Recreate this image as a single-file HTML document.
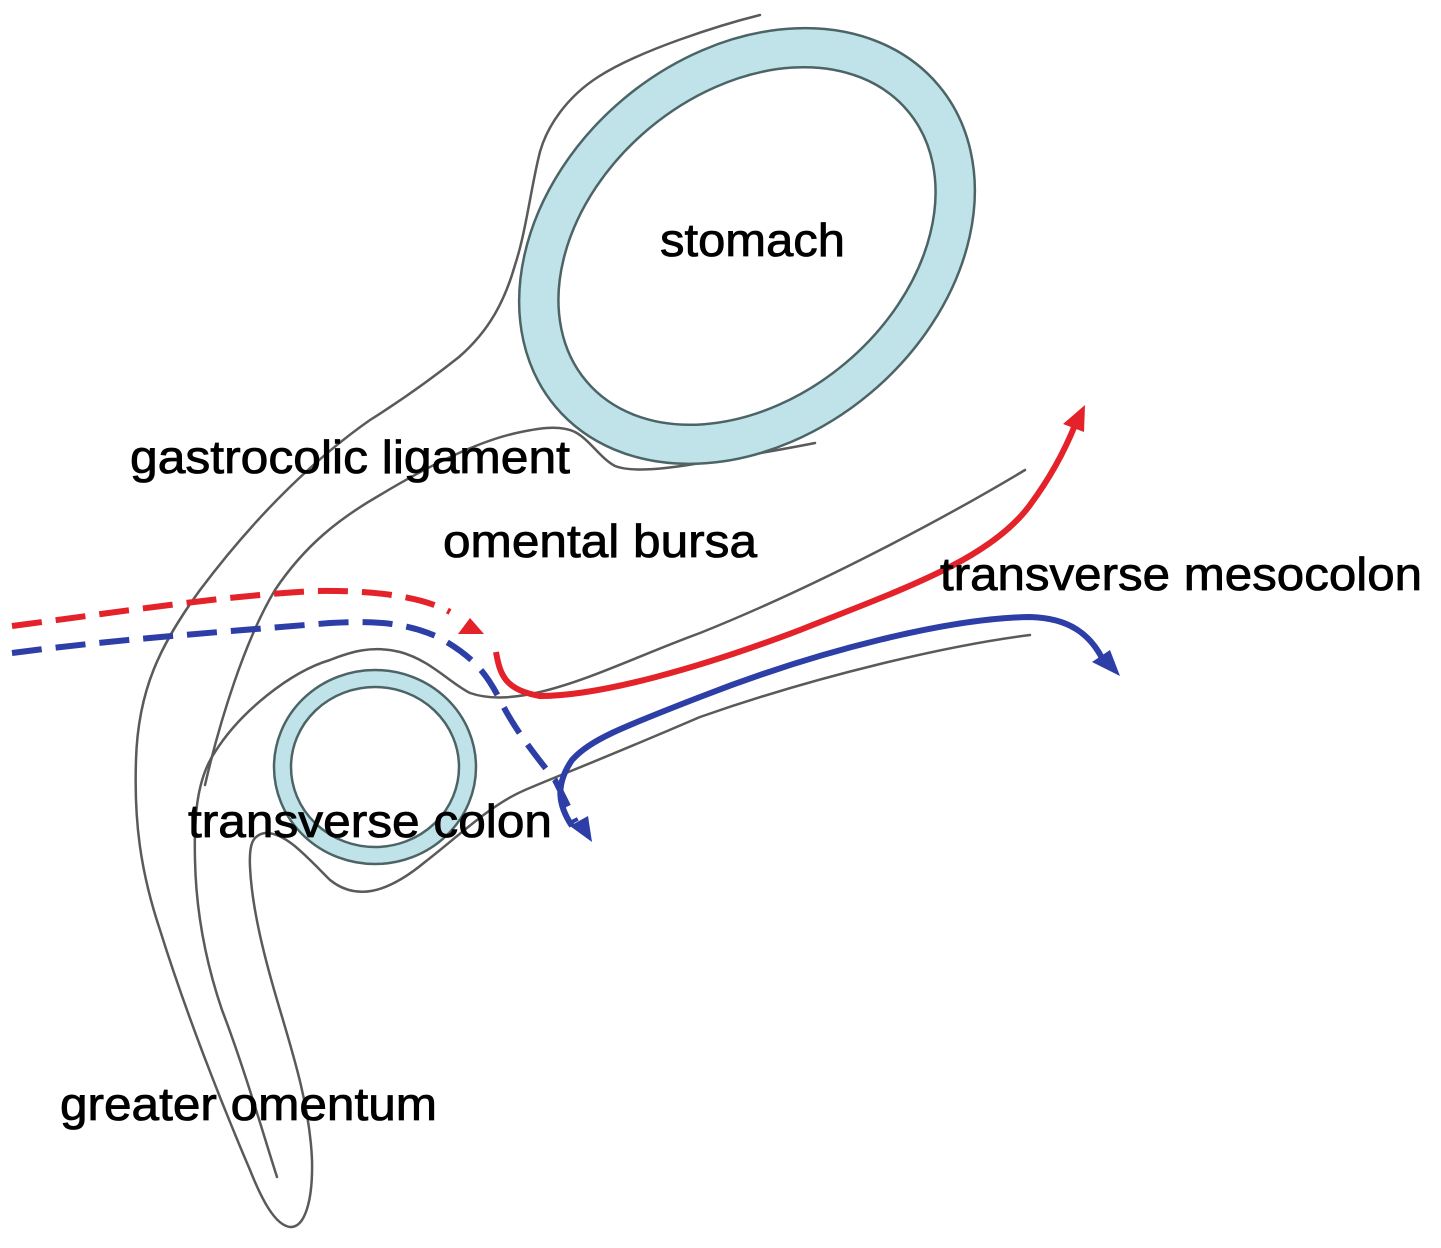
<!DOCTYPE html>
<html><head><meta charset="utf-8"><style>html,body{margin:0;padding:0;background:#fff}svg{display:block}</style></head>
<body>
<svg width="1441" height="1248" viewBox="0 0 1441 1248" xmlns="http://www.w3.org/2000/svg">
<g fill="none" stroke="#5a5a5a" stroke-width="2.5" stroke-linecap="round" stroke-linejoin="round">
<path d="M760,15 C720,25 640,50 598,77 C570,95 545,125 538,160 C530,195 525,235 515,265 C505,300 490,330 459,357 C430,380 405,398 370,420 C320,455 260,510 200,590 C160,645 138,690 136,760 C134,820 140,870 160,930 C185,1010 220,1100 250,1170 C262,1200 275,1225 290,1227 C305,1228 313,1200 312,1160 C310,1110 295,1060 280,1010 C265,960 252,910 250,867 C249,845 252,835 265,833 C285,832 305,855 330,880 C355,900 385,895 425,862 C460,835 490,805 525,790 C560,775 600,760 700,717 C820,675 950,645 1030,635"/>
<path d="M277,1177 C265,1140 245,1070 222,1010 C205,960 196,910 195,860 C194,820 196,780 215,752 C240,712 290,672 330,660 C350,652 372,645 400,652 C430,660 450,683 470,693 C490,700 515,698 540,692 C590,680 640,655 700,633 C820,585 950,515 1025,470"/>
<path d="M205,785 C220,720 245,640 275,590 C305,545 340,518 380,495 C430,465 480,440 521,432 C540,428 560,425 575,432 C590,440 600,458 615,466 C630,472 660,470 700,463 C750,455 790,448 815,443"/>
</g>
<g transform="translate(747,246) rotate(-40)">
<ellipse cx="0" cy="0" rx="250" ry="192" fill="#bfe3e8" stroke="#4d6466" stroke-width="2.5"/>
<ellipse cx="0" cy="0" rx="210" ry="153" fill="#fff" stroke="#4d6466" stroke-width="2.5"/>
</g>
<ellipse cx="375" cy="767" rx="101" ry="97" fill="#bfe3e8" stroke="#4d6466" stroke-width="2.5"/>
<ellipse cx="375" cy="767" rx="84" ry="80" fill="#fff" stroke="#4d6466" stroke-width="2.5"/>
<path d="M12,626 C120,612 220,596 315,591 C380,590 425,598 450,612" fill="none" stroke="#e3222a" stroke-width="6" stroke-dasharray="30,14"/>
<polygon points="470,618 458,634 484,634" fill="#e3222a"/>
<path d="M496,652 C500,675 505,690 540,696 C600,696 700,668 800,630 C900,590 990,560 1030,505 C1050,478 1065,450 1075,425" fill="none" stroke="#e3222a" stroke-width="6"/>
<polygon points="1085,405 1063,424 1084,432" fill="#e3222a"/>
<path d="M12,653 C110,640 220,632 330,623 C380,620 410,624 440,638 C470,655 485,670 500,700 C515,730 535,755 555,780 C565,800 570,810 576,822" fill="none" stroke="#2d3ea6" stroke-width="6" stroke-dasharray="30,14"/>
<polygon points="592,842 570,826 588,816" fill="#2d3ea6"/>
<path d="M572,826 C558,805 555,785 572,760 C590,740 620,728 700,697 C820,650 950,618 1030,617 C1070,618 1090,635 1102,658" fill="none" stroke="#2d3ea6" stroke-width="6"/>
<polygon points="1120,676 1092,662 1110,650" fill="#2d3ea6"/>
<g font-family="Liberation Sans, sans-serif" font-size="46" fill="#000" stroke="#000" stroke-width="0.8">
<text x="660" y="256" textLength="185" lengthAdjust="spacingAndGlyphs">stomach</text>
<text x="130" y="473" textLength="440" lengthAdjust="spacingAndGlyphs">gastrocolic ligament</text>
<text x="443" y="557" textLength="314" lengthAdjust="spacingAndGlyphs">omental bursa</text>
<text x="940" y="590" textLength="482" lengthAdjust="spacingAndGlyphs">transverse mesocolon</text>
<text x="188" y="837" textLength="364" lengthAdjust="spacingAndGlyphs">transverse colon</text>
<text x="60" y="1120" textLength="377" lengthAdjust="spacingAndGlyphs">greater omentum</text>
</g>
</svg>
</body></html>
